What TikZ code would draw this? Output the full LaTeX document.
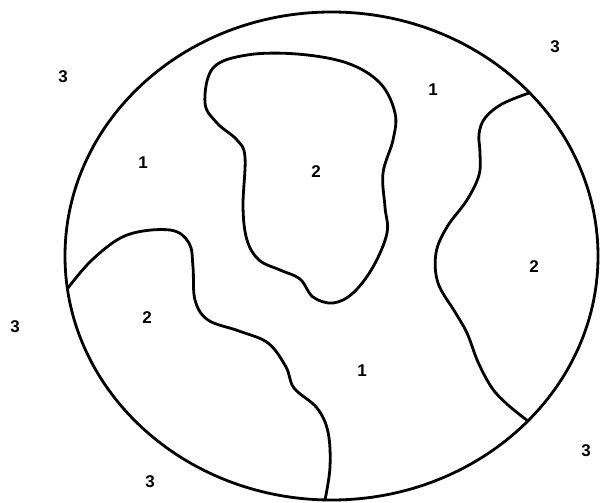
\documentclass[tikz,border=0pt]{standalone}
\usepackage{fontspec}
\setmainfont{Liberation Sans}
\begin{document}
\begin{tikzpicture}[x=1pt,y=-1pt,
  line/.style={line width=2.8pt,line join=round,line cap=round},
  lab/.style={font=\fontsize{17}{17}\selectfont\bfseries,inner sep=0pt}]
\useasboundingbox (0,0) rectangle (605,503);
% outer circle
\draw[line] (331.5,256) ellipse [x radius=266.5pt, y radius=244pt];
% lower-left boundary
\draw[line] plot[smooth,tension=0.6] coordinates {(68,288) (93,259) (127,235) (170,230) (189,243) (193,267) (195,300) (208,320) (239,331) (268,343) (286,367) (294,388) (317,408) (328,432) (330,467) (325,500)};
% inner blob
\draw[line] plot[smooth cycle,tension=0.6] coordinates {(205,103) (213,68) (247,55) (297,54) (347,63) (380,83) (395,113) (393,140) (383,173) (385,207) (387,233) (373,267) (353,293) (333,303) (313,297) (300,279) (280,270) (259,260) (247,240) (243,207) (245,157) (237,140) (217,123)};
% right boundary
\draw[line] plot[smooth,tension=0.6] coordinates {(529,93) (502,104) (485,118) (479,134) (480,153) (479,175) (467,200) (447,227) (436,253) (438,283) (455,312) (467,333) (478,362) (492,388) (508,405) (528,421)};
% labels
\node[lab] (a) at (63,77) {3};
\node[lab] (b) at (143,163) {1};
\node[lab] (c) at (316,172) {2};
\node[lab] (d) at (433,90) {1};
\node[lab] (e) at (555,47) {3};
\node[lab] (f) at (534,267) {2};
\node[lab] (g) at (15,327) {3};
\node[lab] (h) at (147,318) {2};
\node[lab] (i) at (362,371) {1};
\node[lab] (j) at (586,451) {3};
\node[lab] (k) at (150,482) {3};
\end{tikzpicture}
\end{document}
